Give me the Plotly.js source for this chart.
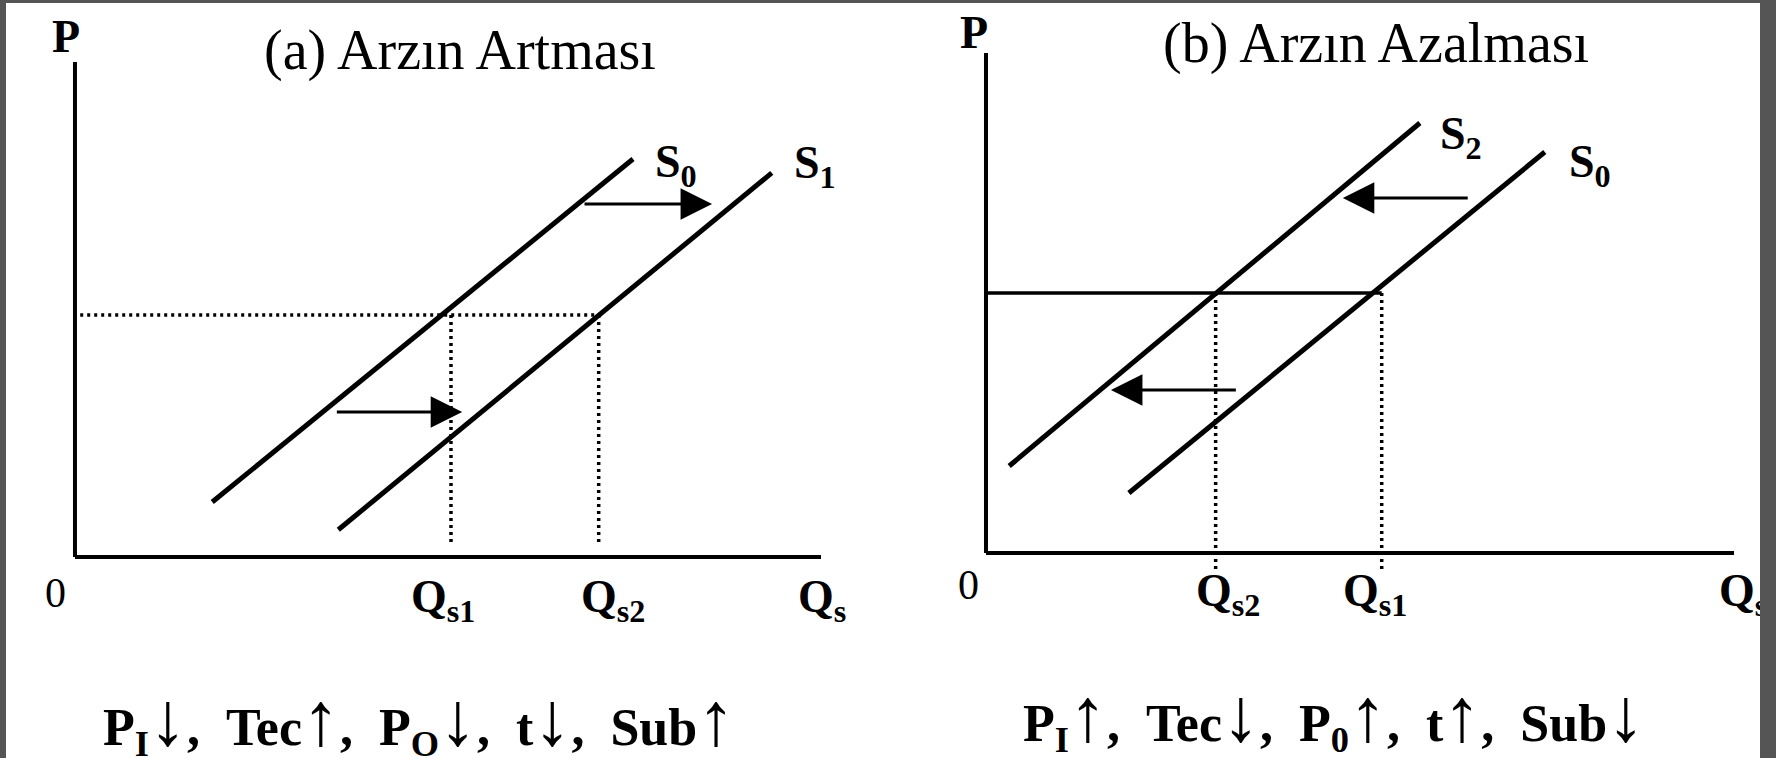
<!DOCTYPE html>
<html>
<head>
<meta charset="utf-8">
<script src="https://cdn.plot.ly/plotly-3.0.1.min.js"></script>
<style>
  html, body { margin: 0; padding: 0; background: #555555; }
  #frame { position: absolute; left: 6px; top: 3px; width: 1754px; height: 755px; overflow: hidden; background: #fff; }
  #chart { position: absolute; left: -6px; top: -3px; width: 1776px; height: 758px; }
</style>
</head>
<body>
<div id="frame"><div id="chart"></div></div>
<script>
(function() {
'use strict';

  // axis extent, both panels (Q and P run 0..10)
  var axisQ = [0, 10];
  var axisP = [0, 10];

  // (a) Arzın Artması : S0 shifts right to S1
  var s0aQ = [1.84, 7.48], s0aP = [1.11, 8.04];
  var s1aQ = [3.53, 9.34], s1aP = [0.55, 7.76];
  var priceA = 4.89;
  var qA = [5.04, 7.02];            // Qs1, Qs2
  var dropA = 0.24;                 // where the dotted drops stop
  var arrowsA = { p: [7.13, 2.93], from: [6.81, 3.49], to: [8.54, 5.19] };

  // (b) Arzın Azalması : S0 shifts left to S2
  var s2bQ = [0.31, 5.80], s2bP = [1.74, 8.60];
  var s0bQ = [1.91, 7.47], s0bP = [1.20, 8.02];
  var priceB = 5.2;
  var qB = [3.07, 5.29];            // Qs2, Qs1
  var dropB = -0.34;
  var arrowsB = { p: [7.10, 3.26], from: [6.46, 3.36], to: [4.77, 1.67] };

  var serif = 'Liberation Serif, Times New Roman, serif';
  var black = '#000';
  var sp = '\u00a0\u00a0';

  function seg(q, p, xa, ya, w, dash) {
    return { x: q, y: p, xaxis: xa, yaxis: ya, type: 'scatter', mode: 'lines',
      line: { color: black, width: w, dash: dash || 'solid' },
      hoverinfo: 'skip', showlegend: false };
  }

  var data = [
    // panel a
    seg(axisQ, [0, 0], 'x', 'y', 4),
    seg([0, 0], axisP, 'x', 'y', 4),
    seg([0.07, qA[1]], [priceA, priceA], 'x', 'y', 3.5, '3px,4px'),
    seg([qA[0], qA[0]], [priceA, dropA], 'x', 'y', 3.5, '3px,4px'),
    seg([qA[1], qA[1]], [priceA, dropA], 'x', 'y', 3.5, '3px,4px'),
    seg(s0aQ, s0aP, 'x', 'y', 5),
    seg(s1aQ, s1aP, 'x', 'y', 5),
    // panel b
    seg(axisQ, [0, 0], 'x2', 'y2', 4),
    seg([0, 0], axisP, 'x2', 'y2', 4),
    seg([0, qB[1]], [priceB, priceB], 'x2', 'y2', 3.5),
    seg([qB[0], qB[0]], [priceB, dropB], 'x2', 'y2', 3.5, '3px,4px'),
    seg([qB[1], qB[1]], [priceB, dropB], 'x2', 'y2', 3.5, '3px,4px'),
    seg(s2bQ, s2bP, 'x2', 'y2', 5),
    seg(s0bQ, s0bP, 'x2', 'y2', 5)
  ];

  function lbl(text, x, y, xr, yr, dx, dy, size, plain) {
    return { text: plain ? text : '<b>' + text + '</b>', x: x, y: y, xref: xr, yref: yr,
      xshift: dx, yshift: dy, showarrow: false, xanchor: 'center', yanchor: 'middle',
      font: { family: serif, size: size || 46, color: black } };
  }

  function arrow(x0, x1, p, xr, yr) {
    return { text: '', x: x1, y: p, ax: x0, ay: p, xref: xr, yref: yr, axref: xr, ayref: yr,
      showarrow: true, arrowhead: 2, arrowsize: 2.1, arrowwidth: 3, arrowcolor: black, standoff: 0 };
  }

  function up() { return '<span style="font-size:76px;font-weight:normal">↑</span>'; }
  function dn() { return '<span style="font-size:76px;font-weight:normal">↓</span>'; }

  var noteA = 'P<sub>I</sub>' + dn() + ',' + sp + 'Tec' + up() + ',' + sp + 'P<sub>O</sub>' + dn() +
    ',' + sp + 't' + dn() + ',' + sp + 'Sub' + up();
  var noteB = 'P<sub>I</sub>' + up() + ',' + sp + 'Tec' + dn() + ',' + sp + 'P<sub>0</sub>' + up() +
    ',' + sp + 't' + up() + ',' + sp + 'Sub' + dn();

  var annotations = [
    lbl('(a) Arzın Artması', 0.259, 0.934, 'paper', 'paper', 0, 0, 56, true),
    lbl('(b) Arzın Azalması', 0.775, 0.943, 'paper', 'paper', 0, 0, 56, true),

    lbl('P', 0, axisP[1], 'x', 'y', -9, 26),
    lbl('0', 0, 0, 'x', 'y', -19, -36, 42, true),
    lbl('Q<sub>s1</sub>', qA[0], 0, 'x', 'y', -8, -43),
    lbl('Q<sub>s2</sub>', qA[1], 0, 'x', 'y', 14, -43),
    lbl('Q<sub>s</sub>', axisQ[1], 0, 'x', 'y', 1, -43),
    lbl('S<sub>0</sub>', s0aQ[1], s0aP[1], 'x', 'y', 43, -6),
    lbl('S<sub>1</sub>', s1aQ[1], s1aP[1], 'x', 'y', 43, 7),

    lbl('P', 0, axisP[1], 'x2', 'y2', -12, 21),
    lbl('0', 0, 0, 'x2', 'y2', -17, -32, 42, true),
    lbl('Q<sub>s2</sub>', qB[0], 0, 'x2', 'y2', 12, -41),
    lbl('Q<sub>s1</sub>', qB[1], 0, 'x2', 'y2', -7, -41),
    lbl('Q<sub>s</sub>', axisQ[1], 0, 'x2', 'y2', 9, -41),
    lbl('S<sub>2</sub>', s2bQ[1], s2bP[1], 'x2', 'y2', 41, -14),
    lbl('S<sub>0</sub>', s0bQ[1], s0bP[1], 'x2', 'y2', 45, -13),

    lbl(noteA, 0.236, 0.038, 'paper', 'paper', 0, 9, 52),
    lbl(noteB, 0.751, 0.043, 'paper', 'paper', 0, 9, 52)
  ];

  var i;
  for (i = 0; i < 2; i++) {
    annotations.push(arrow(arrowsA.from[i], arrowsA.to[i], arrowsA.p[i], 'x', 'y'));
    annotations.push(arrow(arrowsB.from[i], arrowsB.to[i], arrowsB.p[i], 'x2', 'y2'));
  }

  var hidden = { visible: false, showgrid: false, zeroline: false, fixedrange: true };

  var layout = {
    width: 1776, height: 758,
    margin: { l: 0, r: 0, t: 0, b: 0 },
    paper_bgcolor: '#fff', plot_bgcolor: 'rgba(0,0,0,0)',
    showlegend: false,
    xaxis: Object.assign({ domain: [0, 0.5], range: [-1.005, 10.898] }, hidden),
    yaxis: Object.assign({ domain: [0, 1], range: [-4.061, 11.253] }, hidden),
    xaxis2: Object.assign({ domain: [0.5, 1], range: [-1.310, 10.561] }, hidden),
    yaxis2: Object.assign({ domain: [0, 1], range: [-4.1, 11.06] }, hidden),
    annotations: annotations
  };

  Plotly.newPlot('chart', data, layout, { displayModeBar: false, staticPlot: true });
}());
</script>
</body>
</html>
